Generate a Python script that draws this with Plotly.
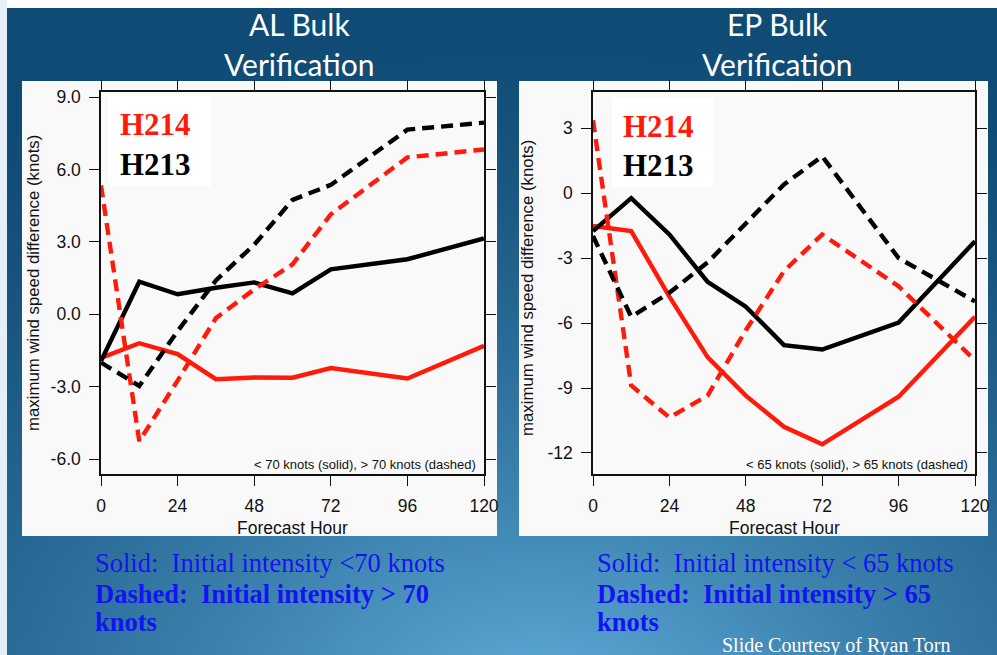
import base64
import struct
import zlib

import numpy as np
import plotly.graph_objects as go

W, H = 997, 655

# Forecast lead times (hours)
hours = [0, 12, 24, 36, 48, 60, 72, 96, 120]

# Atlantic basin: mean max-wind error difference (knots)
al_h214_weak = [-1.81, -1.20, -1.65, -2.69, -2.62, -2.63, -2.23, -2.66, -1.31]
al_h213_weak = [-1.94, 1.35, 0.83, 1.10, 1.32, 0.87, 1.86, 2.28, 3.14]
al_h214_strong = [5.34, -5.26, -2.75, -0.16, 1.03, 2.07, 4.14, 6.50, 6.83]
al_h213_strong = [-2.00, -2.97, -0.70, 1.40, 2.88, 4.74, 5.36, 7.65, 7.94]

# Eastern Pacific basin
ep_h214_weak = [-1.52, -1.75, -4.78, -7.57, -9.35, -10.79, -11.60, -9.40, -5.71]
ep_h213_weak = [-1.75, -0.23, -1.91, -4.10, -5.24, -7.02, -7.22, -5.98, -2.22]
ep_h214_strong = [3.36, -8.88, -10.36, -9.35, -6.33, -3.60, -1.91, -4.30, -7.72]
ep_h213_strong = [-1.98, -5.71, -4.60, -3.20, -1.40, 0.40, 1.70, -3.00, -5.00]

x_ticks = [0, 24, 48, 72, 96, 120]
al_y_ticks = [-6, -3, 0, 3, 6, 9]
al_y_labels = ["-6.0", "-3.0", "0.0", "3.0", "6.0", "9.0"]
ep_y_ticks = [-12, -9, -6, -3, 0, 3]
ep_y_labels = ["-12", "-9", "-6", "-3", "0", "3"]

RED = "#ff1a0a"
BLACK = "#000000"
TEXT_BLUE = "#1414f2"
SANS = "Liberation Sans, Arial, sans-serif"
SERIF = "Liberation Serif, Times New Roman, serif"


def px(x):
    return x / W


def py(y):
    return 1 - y / H


# ---- slide background: soft radial blue gradient as an embedded PNG ----
def gradient_png(gw=200, gh=132):
    dark = np.array([15, 75, 117], dtype=float)
    light = np.array([98, 176, 222], dtype=float)
    xs = (np.arange(gw) + 0.5) * W / gw
    ys = (np.arange(gh) + 0.5) * H / gh
    X, Y = np.meshgrid(xs, ys)
    d = np.sqrt(((X - 540) * 0.7) ** 2 + (Y - 720) ** 2)
    t = np.clip(1 - d / 720, 0, 1) ** 1.5
    rgb = dark[None, None, :] + t[..., None] * (light - dark)[None, None, :]
    rgb = np.clip(rgb, 0, 255).astype(np.uint8)
    raw = b"".join(b"\x00" + rgb[r].tobytes() for r in range(gh))

    def chunk(tag, data):
        c = struct.pack(">I", len(data)) + tag + data
        return c + struct.pack(">I", zlib.crc32(tag + data) & 0xFFFFFFFF)

    png = b"\x89PNG\r\n\x1a\n"
    png += chunk(b"IHDR", struct.pack(">IIBBBBB", gw, gh, 8, 2, 0, 0, 0))
    png += chunk(b"IDAT", zlib.compress(raw, 9))
    png += chunk(b"IEND", b"")
    return "data:image/png;base64," + base64.b64encode(png).decode()


fig = go.Figure()

panels = [
    dict(xa="x", ya="y",
         series=[(al_h214_weak, RED, "solid"), (al_h213_weak, BLACK, "solid"),
                 (al_h214_strong, RED, "dash"), (al_h213_strong, BLACK, "dash")]),
    dict(xa="x2", ya="y2",
         series=[(ep_h214_weak, RED, "solid"), (ep_h213_weak, BLACK, "solid"),
                 (ep_h214_strong, RED, "dash"), (ep_h213_strong, BLACK, "dash")]),
]

for p in panels:
    for vals, color, style in p["series"]:
        fig.add_trace(go.Scatter(
            x=hours, y=vals, mode="lines", xaxis=p["xa"], yaxis=p["ya"],
            line=dict(color=color, width=4.4,
                      dash="12px,7px" if style == "dash" else "solid"),
            showlegend=False, hoverinfo="skip",
        ))

axis_common = dict(
    ticks="outside", ticklen=10, tickwidth=1.3, tickcolor="#111",
    showline=True, linecolor="#111", linewidth=1.5, mirror="ticks",
    showgrid=False, zeroline=False, automargin=False,
    tickfont=dict(family=SANS, size=17.5, color="#111"),
    ticklabelstandoff=5,
)

ydom = [py(474), py(92)]
fig.update_layout(
    xaxis=dict(domain=[px(101), px(484)], range=[0, 120], tickvals=x_ticks,
               anchor="y", **axis_common),
    yaxis=dict(domain=ydom, range=[-6.62, 9.21], tickvals=al_y_ticks,
               ticktext=al_y_labels, anchor="x", **axis_common),
    xaxis2=dict(domain=[px(593), px(975)], range=[0, 120], tickvals=x_ticks,
                anchor="y2", **axis_common),
    yaxis2=dict(domain=ydom, range=[-12.97, 4.67], tickvals=ep_y_ticks,
                ticktext=ep_y_labels, anchor="x2", **axis_common),
)

shapes = [
    # top white strip and pale left edge of the slide
    dict(x0=0, x1=px(W), y0=py(0), y1=py(8), fillcolor="#ffffff"),
    dict(x0=0, x1=px(7), y0=py(0), y1=py(H), fillcolor="#e4eff6"),
    # chart panels
    dict(x0=px(22), x1=px(497), y0=py(536), y1=py(81), fillcolor="#f9f9f9"),
    dict(x0=px(519), x1=px(988), y0=py(536), y1=py(81), fillcolor="#f9f9f9"),
    # white boxes behind the model labels
    dict(x0=px(108), x1=px(211), y0=py(186), y1=py(95), fillcolor="#ffffff"),
    dict(x0=px(612), x1=px(713), y0=py(187), y1=py(97), fillcolor="#ffffff"),
]
for s in shapes:
    s.update(type="rect", xref="paper", yref="paper", layer="below",
             line=dict(width=0))

annotations = []


def note(text, x, y, size, color, family, xanchor="center", angle=0):
    annotations.append(dict(
        text=text, x=px(x), y=py(y), xref="paper", yref="paper",
        xanchor=xanchor, yanchor="middle", showarrow=False, textangle=angle,
        font=dict(family=family, size=size, color=color)))


# slide titles
TITLE = "Lato, Open Sans, sans-serif"
note("AL Bulk", 299, 24, 30, "#ffffff", TITLE)
note("Verification", 299, 64, 30, "#ffffff", TITLE)
note("EP Bulk", 777, 24, 30, "#ffffff", TITLE)
note("Verification", 777, 64, 30, "#ffffff", TITLE)

# axis titles
note("Forecast Hour", 292.5, 528, 17.5, "#111", SANS)
note("Forecast Hour", 784, 528, 17.5, "#111", SANS)
note("maximum wind speed difference (knots)", 33, 283, 16.8, "#111", SANS, angle=-90)
note("maximum wind speed difference (knots)", 528, 288, 16.8, "#111", SANS, angle=-90)

# model labels
note("<b>H214</b>", 118, 125, 31, RED, SERIF, xanchor="left")
note("<b>H213</b>", 118, 165, 31, BLACK, SERIF, xanchor="left")
note("<b>H214</b>", 621, 126, 31, RED, SERIF, xanchor="left")
note("<b>H213</b>", 621, 166, 31, BLACK, SERIF, xanchor="left")

# threshold notes inside the frames
note("< 70 knots (solid), > 70 knots (dashed)", 478, 464, 13, "#111", SANS, xanchor="right")
note("< 65 knots (solid), > 65 knots (dashed)", 970, 464, 13, "#111", SANS, xanchor="right")

# captions below the charts
CAP = 26.5
note("Solid:  Initial intensity <70 knots", 93, 563, CAP, TEXT_BLUE, SERIF, xanchor="left")
note("<b>Dashed:  Initial intensity > 70</b>", 93, 594, CAP, TEXT_BLUE, SERIF, xanchor="left")
note("<b>knots</b>", 93, 622, CAP, TEXT_BLUE, SERIF, xanchor="left")
note("Solid:  Initial intensity < 65 knots", 595, 563, CAP, TEXT_BLUE, SERIF, xanchor="left")
note("<b>Dashed:  Initial intensity > 65</b>", 595, 594, CAP, TEXT_BLUE, SERIF, xanchor="left")
note("<b>knots</b>", 595, 622, CAP, TEXT_BLUE, SERIF, xanchor="left")
note("Slide Courtesy of Ryan Torn", 720, 645, 20, "#ffffff", SERIF, xanchor="left")

fig.update_layout(
    width=W, height=H, autosize=False,
    margin=dict(l=0, r=0, t=0, b=0, pad=0),
    paper_bgcolor="#14507a",
    plot_bgcolor="rgba(0,0,0,0)",
    shapes=shapes,
    annotations=annotations,
    images=[dict(source=gradient_png(), xref="paper", yref="paper",
                 x=0, y=1, sizex=1, sizey=1, sizing="stretch",
                 xanchor="left", yanchor="top", layer="below")],
    showlegend=False,
)

fig.write_html(
    "out.html",
    config={"responsive": False, "displayModeBar": False},
    post_script="document.body.style.margin='0';document.body.style.overflow='hidden';",
)
